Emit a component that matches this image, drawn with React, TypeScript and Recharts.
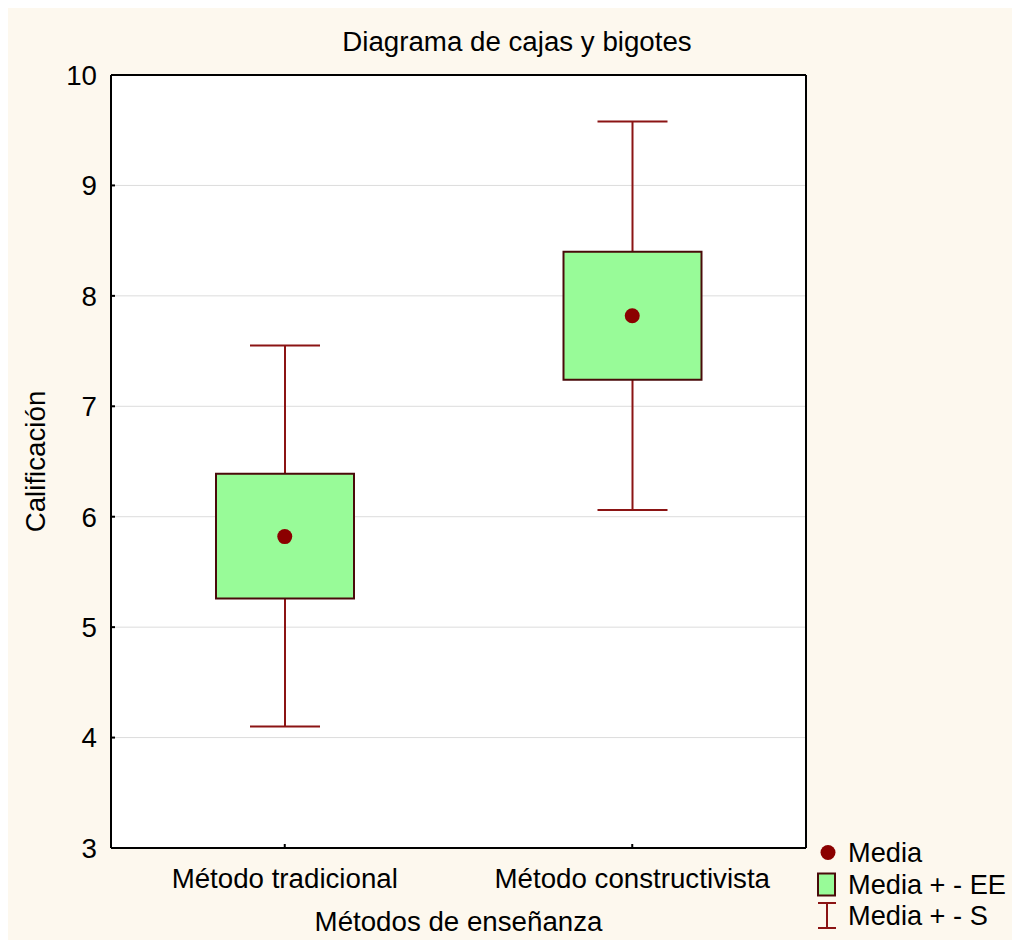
import React from "react";
import {
  ComposedChart,
  Bar,
  Line,
  XAxis,
  YAxis,
  CartesianGrid,
  Legend,
} from "recharts";

const categories = ["Método tradicional", "Método constructivista"];
const means = [5.82, 7.82];
const seLow = [5.26, 7.24];
const seHigh = [6.39, 8.4];
const sdLow = [4.1, 6.06];
const sdHigh = [7.55, 9.58];
const yTicks = [3, 4, 5, 6, 7, 8, 9, 10];

const data = categories.map((name, i) => ({
  name,
  mean: means[i],
  se: [seLow[i], seHigh[i]],
  sd: [sdLow[i], sdHigh[i]],
}));

const FONT = "'Liberation Sans', Arial, sans-serif";
const FS = 27.7;
const WHISKER = "#8b1414";
const BOX_STROKE = "#4a0a0a";
const BOX_FILL = "#98fb98";
const DOT = "#8b0000";

const Whisker = (props: any) => {
  const { x, y, width, height } = props;
  const cx = x + width / 2;
  return (
    <g stroke={WHISKER} strokeWidth={2}>
      <line x1={cx} x2={cx} y1={y} y2={y + height} />
      <line x1={x} x2={x + width} y1={y} y2={y} />
      <line x1={x} x2={x + width} y1={y + height} y2={y + height} />
    </g>
  );
};

const legendItems = [
  { key: "dot", label: "Media" },
  { key: "box", label: "Media + - EE" },
  { key: "whisker", label: "Media + - S" },
];

const renderLegend = () => (
  <div style={{ fontFamily: FONT, fontSize: 27.2, color: "#000" }}>
    {legendItems.map((item) => (
      <div
        key={item.key}
        style={{ display: "flex", alignItems: "center", height: 31.5 }}
      >
        <svg width={32} height={31} style={{ flex: "none" }}>
          {item.key === "dot" && <circle cx={12} cy={15.5} r={7.5} fill={DOT} />}
          {item.key === "box" && (
            <rect
              x={2}
              y={4.5}
              width={17}
              height={22}
              fill={BOX_FILL}
              stroke={BOX_STROKE}
              strokeWidth={2}
            />
          )}
          {item.key === "whisker" && (
            <g stroke={WHISKER} strokeWidth={2}>
              <line x1={11} x2={11} y1={3} y2={28} />
              <line x1={2} x2={20} y1={3} y2={3} />
              <line x1={2} x2={20} y1={28} y2={28} />
            </g>
          )}
        </svg>
        <span style={{ lineHeight: "31.5px", whiteSpace: "nowrap" }}>
          {item.label}
        </span>
      </div>
    ))}
  </div>
);

const axisLine = { stroke: "#000", strokeWidth: 2 };
const tickLine = { stroke: "#000", strokeWidth: 2 };
const tickStyle = { fontSize: FS, fill: "#000", fontFamily: FONT };

export default function App() {
  return (
    <div
      style={{
        position: "fixed",
        left: 8,
        top: 8,
        width: 1004,
        height: 932,
        background: "#fdf8ee",
      }}
    >
      <ComposedChart
        width={1004}
        height={932}
        data={data}
        margin={{ top: 66, right: 205, bottom: 0, left: 0 }}
      >
        <CartesianGrid
          vertical={false}
          stroke="#dcdcdc"
          fill="#ffffff"
          fillOpacity={1}
        />
        <XAxis
          dataKey="name"
          height={92}
          tick={tickStyle}
          tickSize={-4}
          tickMargin={24}
          axisLine={axisLine}
          tickLine={tickLine}
          label={{
            content: (p: any) => (
              <text
                x={p.viewBox.x + p.viewBox.width / 2}
                y={p.viewBox.y + 83}
                textAnchor="middle"
                fontSize={FS}
                fontFamily={FONT}
                fill="#000"
              >
                Métodos de enseñanza
              </text>
            ),
          }}
        />
        <XAxis xAxisId="w" dataKey="name" hide />
        <XAxis
          xAxisId="top"
          orientation="top"
          type="number"
          domain={[0, 2]}
          ticks={[0.32, 1.32]}
          height={1}
          tick={false}
          tickSize={-4}
          axisLine={axisLine}
          tickLine={tickLine}
          allowDataOverflow
          label={{
            content: () => (
              <text
                x={509}
                y={43}
                textAnchor="middle"
                fontSize={FS}
                fontFamily={FONT}
                fill="#000"
              >
                Diagrama de cajas y bigotes
              </text>
            ),
          }}
        />
        <YAxis
          domain={[3, 10]}
          ticks={yTicks}
          width={103}
          tick={tickStyle}
          tickSize={-4}
          tickMargin={18}
          axisLine={axisLine}
          tickLine={tickLine}
          allowDataOverflow
          label={{
            content: (p: any) => {
              const x = p.viewBox.x + 37;
              const y = p.viewBox.y + p.viewBox.height / 2;
              return (
                <text
                  x={x}
                  y={y}
                  transform={`rotate(-90, ${x}, ${y})`}
                  textAnchor="middle"
                  fontSize={FS}
                  fontFamily={FONT}
                  fill="#000"
                >
                  Calificación
                </text>
              );
            },
          }}
        />
        <YAxis
          yAxisId="right"
          orientation="right"
          domain={[3, 10]}
          ticks={yTicks}
          width={1}
          tick={false}
          tickSize={-4}
          axisLine={axisLine}
          tickLine={tickLine}
          allowDataOverflow
        />
        <Bar
          xAxisId="w"
          dataKey="sd"
          barSize={70}
          shape={Whisker}
          isAnimationActive={false}
        />
        <Bar
          dataKey="se"
          barSize={138}
          fill={BOX_FILL}
          stroke={BOX_STROKE}
          strokeWidth={2}
          isAnimationActive={false}
        />
        <Line
          dataKey="mean"
          stroke="none"
          dot={{ r: 7.5, fill: DOT, stroke: "none" }}
          activeDot={false}
          isAnimationActive={false}
        />
        <Legend
          layout="vertical"
          align="center"
          verticalAlign="middle"
          content={renderLegend}
          wrapperStyle={{ left: 808, top: 829, width: 196 }}
        />
      </ComposedChart>
    </div>
  );
}
